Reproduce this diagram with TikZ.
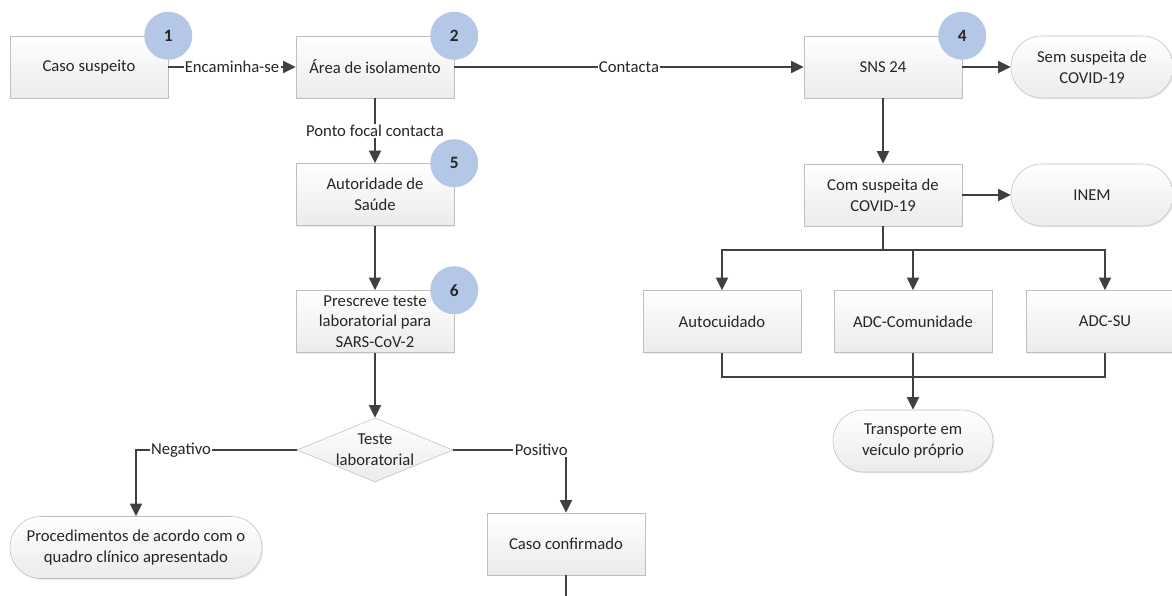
\documentclass[tikz,border=0pt]{standalone}
\usepackage{fontspec}
\setmainfont{Carlito}
\usetikzlibrary{shapes.geometric, arrows.meta, positioning, shadows}

\definecolor{linegray}{HTML}{404040}
\definecolor{boxborder}{HTML}{BFBFBF}
\definecolor{boxbottom}{HTML}{EBEBEB}
\definecolor{txtgray}{HTML}{262626}
\definecolor{stepblue}{HTML}{B4C7E7}

\begin{document}
\begin{tikzpicture}[x=0.75pt, y=-0.75pt, every node/.style={font=\fontsize{12.5}{15.5}\selectfont, text=txtgray}, align=center]
    % Define styles for the blocks
    \tikzstyle{process} = [rectangle, minimum width=118.5pt, minimum height=46.5pt, text centered, draw=boxborder, top color=white, bottom color=boxbottom, drop shadow={shadow xshift=1pt, shadow yshift=-1pt, opacity=0.15}]
    \tikzstyle{terminal} = [process, rounded corners=23pt, minimum width=121.5pt]
    \tikzstyle{decision} = [diamond, minimum width=117pt, minimum height=48pt, inner sep=0pt, draw=boxborder, top color=white, bottom color=boxbottom]
    \tikzstyle{stepnum} = [circle, fill=stepblue, minimum size=36pt, inner sep=0pt, font=\fontsize{13}{13}\selectfont\bfseries]
    \tikzstyle{lbl} = [fill=white, inner sep=1pt]
    \tikzstyle{arrow} = [line width=1.7pt, draw=linegray, -{Triangle[length=9.5pt, width=9pt]}]
    \tikzstyle{link} = [line width=1.7pt, draw=linegray]

    \path[use as bounding box, clip] (0,0) rectangle (1172,596);

    % Define nodes in the flowchart
    \node (caso) [process] at (89,67) {Caso suspeito};
    \node (area) [process] at (375,67) {Área de isolamento};
    \node (sns) [process] at (883,67) {SNS 24};
    \node (sem) [terminal] at (1092,67) {Sem suspeita de\\COVID-19};
    \node (autor) [process] at (375,194.5) {Autoridade de\\Saúde};
    \node (presc) [process] at (375,321.5) {Prescreve teste\\laboratorial para\\SARS-CoV-2};
    \node (teste) [decision] at (375,450) {};
    \node (testetxt) at (teste) {Teste\\laboratorial};
    \node (proc) [terminal, minimum width=189pt] at (136,547.5) {Procedimentos de acordo com o\\quadro clínico apresentado};
    \node (conf) [process] at (566,544) {Caso confirmado};
    \coordinate (exit) at (566,610);
    \node (com) [process] at (883,195) {Com suspeita de\\COVID-19};
    \node (inem) [terminal] at (1092,195) {INEM};
    \node (autoc) [process] at (722,321.5) {Autocuidado};
    \node (adccom) [process] at (913,321.5) {ADC-Comunidade};
    \node (adcsu) [process] at (1105,321.5) {ADC-SU};
    \node (transp) [terminal, minimum width=120pt] at (913,441) {Transporte em\\veículo próprio};

    % Step numbers
    \node (n1) [stepnum] at (caso.north east) {1};
    \node (n2) [stepnum] at (area.north east) {2};
    \node (n4) [stepnum] at (sns.north east) {4};
    \node (n5) [stepnum] at (autor.north east) {5};
    \node (n6) [stepnum] at (presc.north east) {6};

    % Draw arrows between the nodes
    \draw [arrow] (caso) -- node[lbl] {Encaminha-se} (area);
    \draw [arrow] (area) -- node[lbl] {Contacta} (sns);
    \draw [arrow] (sns) -- (sem);
    \draw [arrow] (area) -- node[lbl] {Ponto focal contacta} (autor);
    \draw [arrow] (autor) -- (presc);
    \draw [arrow] (presc) -- (teste);

    % Decision arrows
    \draw [arrow] (teste.west) -| node[lbl, pos=0.36] {Negativo} (proc.north);
    \draw [arrow] (teste.east) -| node[lbl, pos=0.39] {Positivo} (conf.north);
    \draw [link] (conf) -- (exit);

    % SNS 24 branch
    \draw [arrow] (sns) -- (com);
    \draw [arrow] (com) -- (inem);
    \coordinate (fork) at (883,250);
    \draw [arrow] (com) -- (fork) -| (autoc.north);
    \draw [arrow] (fork) -| (adccom.north);
    \draw [arrow] (fork) -| (adcsu.north);
    \coordinate (join) at (913,377);
    \draw [link] (autoc.south) |- (join);
    \draw [link] (adcsu.south) |- (join);
    \draw [arrow] (adccom) -- (transp);

\end{tikzpicture}
\end{document}
